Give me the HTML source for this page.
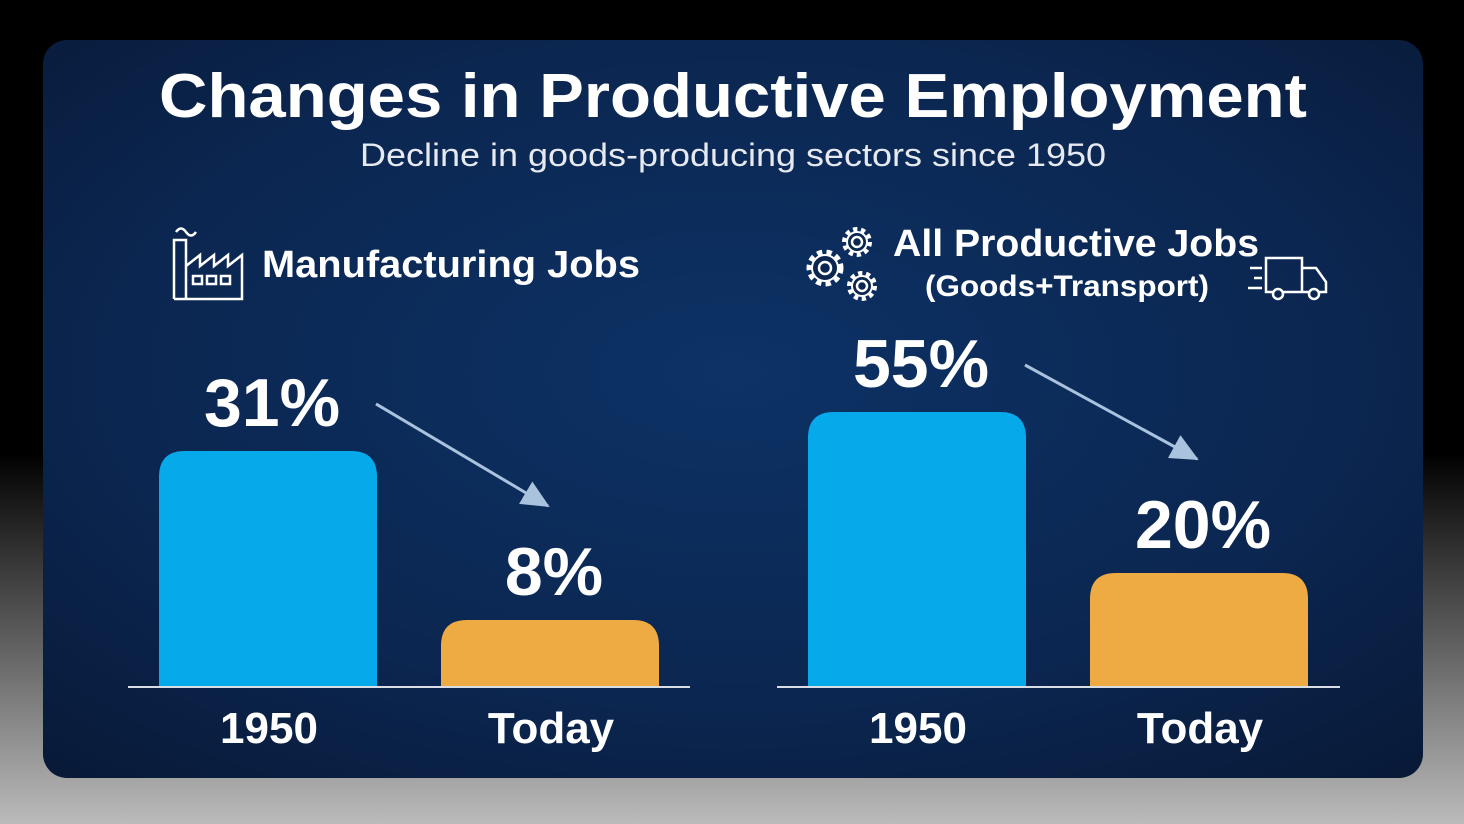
<!DOCTYPE html>
<html><head><meta charset="utf-8"><style>
html,body{margin:0;padding:0;width:1464px;height:824px;overflow:hidden;background:linear-gradient(#000 0%,#000 55%,#bbb 100%);font-family:"Liberation Sans",sans-serif}
</style></head><body>
<svg width="1464" height="824" viewBox="0 0 1464 824" xmlns="http://www.w3.org/2000/svg">
<defs>
<radialGradient id="card" cx="0.5" cy="0.45" r="0.75">
<stop offset="0" stop-color="#0d3266"/><stop offset="0.6" stop-color="#0b2650"/><stop offset="1" stop-color="#081936"/>
</radialGradient>
<marker id="ah" markerWidth="28" markerHeight="26" refX="26" refY="13" orient="auto" markerUnits="userSpaceOnUse" viewBox="0 0 28 26">
<path d="M0,0 L28,13 L0,26 z" fill="#a9c2dd"/></marker>
</defs>
<rect x="43" y="40" width="1380" height="738" rx="24" fill="url(#card)"/>
<text x="733" y="117" text-anchor="middle" font-size="62" font-weight="bold" fill="#fff" textLength="1148" lengthAdjust="spacingAndGlyphs">Changes in Productive Employment</text>
<text x="733" y="166" text-anchor="middle" font-size="32" fill="#e6e9ef" textLength="746" lengthAdjust="spacingAndGlyphs">Decline in goods-producing sectors since 1950</text>

<g fill="none" stroke="#fff" stroke-width="2.5">
<path d="M174,299 V240 H186 V299 M174,299 H242 V255 L228,266 V255 L214,266 V255 L200,266 V255 L186,266"/>
<path d="M176,232 q5,-7 10,0 t10,0"/>
<rect x="193" y="276" width="9" height="8"/><rect x="207" y="276" width="9" height="8"/><rect x="221" y="276" width="9" height="8"/>
</g>
<text x="262" y="277" font-size="38" font-weight="bold" fill="#fff" textLength="378" lengthAdjust="spacingAndGlyphs">Manufacturing Jobs</text>

<g fill="none" stroke="#fff" stroke-width="2.5">
<circle cx="825" cy="268" r="15" stroke-width="7" stroke-dasharray="5 4"/><circle cx="825" cy="268" r="13" fill="#0b2650" stroke-width="2"/><circle cx="825" cy="268" r="6"/>
<circle cx="857" cy="242" r="12" stroke-width="6" stroke-dasharray="4 3.5"/><circle cx="857" cy="242" r="10" fill="#0b2650" stroke-width="2"/><circle cx="857" cy="242" r="5"/>
<circle cx="862" cy="286" r="12" stroke-width="6" stroke-dasharray="4 3.5"/><circle cx="862" cy="286" r="10" fill="#0b2650" stroke-width="2"/><circle cx="862" cy="286" r="5"/>
</g>
<text x="893" y="256" font-size="38" font-weight="bold" fill="#fff" textLength="366" lengthAdjust="spacingAndGlyphs">All Productive Jobs</text>
<text x="1067" y="296" text-anchor="middle" font-size="30" font-weight="bold" fill="#fff" textLength="284" lengthAdjust="spacingAndGlyphs">(Goods+Transport)</text>
<g fill="none" stroke="#fff" stroke-width="2.5">
<path d="M1266,258 H1302 V292 H1266 Z M1302,268 H1316 L1326,282 V292 H1302"/>
<circle cx="1278" cy="294" r="5" fill="#0b2650"/><circle cx="1314" cy="294" r="5" fill="#0b2650"/>
<path d="M1250,268 H1262 M1254,278 H1262 M1248,288 H1262"/>
</g>

<g id="charts"></g>
</svg>
<script>
const categories = ["1950", "Today"];
const manufacturingValues = [31, 8];
const productiveValues = [55, 20];
const valueLabels = [["31%", "8%"], ["55%", "20%"]];

const NS = "http://www.w3.org/2000/svg";
const root = document.getElementById('charts');
function mk(tag, attrs, parent) {
  const e = document.createElementNS(NS, tag);
  for (const k in attrs) e.setAttribute(k, attrs[k]);
  (parent || root).appendChild(e);
  return e;
}
const baseY = 687;
const panels = [
  { name: 'manufacturing', values: manufacturingValues, labels: valueLabels[0], x0: 159, gap: 282, lineX1: 128, lineX2: 690, a: 8.2, b: 7.35 },
  { name: 'productive', values: productiveValues, labels: valueLabels[1], x0: 808, gap: 282, lineX1: 777, lineX2: 1340, a: 22, b: 4.6 }
];
const colors = ["#06aaeb", "#eeaa43"];
panels.forEach(p => {
  const y = v => baseY - (p.a + p.b * v);
  const tops = [];
  p.values.forEach((v, i) => {
    const x = p.x0 + i * p.gap, w = 218, top = y(v);
    tops.push(top);
    const bar = mk('path', { d: `M${x},${baseY} V${top + 26} Q${x},${top} ${x + 26},${top} H${x + w - 26} Q${x + w},${top} ${x + w},${top + 26} V${baseY} Z`, fill: colors[i] });
    
    
    const lbl = mk('text', { x: x + w / 2 + 4, y: top - 25, 'text-anchor': 'middle', 'font-size': 68, 'font-weight': 'bold', fill: '#fff' });
    lbl.textContent = p.labels[i];
    
    
    const cat = mk('text', { x: x + w / 2 + 1, y: 743, 'text-anchor': 'middle', 'font-size': 44, 'font-weight': 'bold', fill: '#fff' });
    cat.textContent = categories[i];
    
    
  });
  const ln = mk('line', { x1: p.lineX1, x2: p.lineX2, y1: baseY, y2: baseY, stroke: '#d8dde6', 'stroke-width': 2 });
  
  
  const ax1 = p.x0 + 218 - 1, ay1 = tops[0] - 47, ax2 = p.x0 + p.gap + 109, ay2 = tops[1] - 115;
  const arr = mk('line', { x1: ax1, y1: ay1, x2: ax2 - 2, y2: ay2 + 1, stroke: '#a9c2dd', 'stroke-width': 3, 'marker-end': 'url(#ah)' });
  
  
});
</script>
</body></html>
